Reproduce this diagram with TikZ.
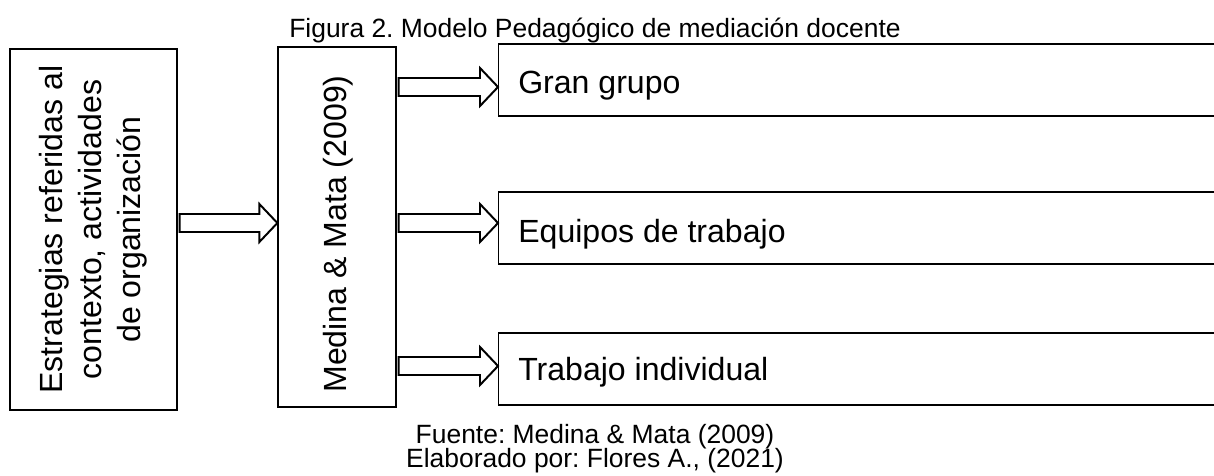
\documentclass[tikz,border=0pt]{standalone}
\usepackage{fontspec}
\setmainfont{Liberation Sans}
\usetikzlibrary{calc}
\frenchspacing

\newlength{\px}
\setlength{\px}{0.025cm}

\tikzset{
  caja/.style={draw, rectangle, line width=0.9pt, inner sep=0pt},
  flecha/.style={draw, line width=1.4pt, line join=miter, fill=white},
  grande/.style={font=\fontsize{22.8}{27.6}\selectfont, inner sep=0pt},
  chica/.style={font=\fontsize{18.8}{22}\selectfont, inner sep=0pt},
}

% flecha hueca: nodo origen, nodo destino, altura
\newcommand{\bloque}[3]{%
  \draw[flecha] ($(#1.east |- 0,#3)+(2,-9)$) -- ($(#2.west |- 0,#3)+(-18,-9)$) -- ++(0,-10)
    -- (#2.west |- 0,#3) -- ($(#2.west |- 0,#3)+(-18,19)$) -- ++(0,-10)
    -- ($(#1.east |- 0,#3)+(2,9)$) -- cycle;}

\begin{document}
\begin{tikzpicture}[x=0.025cm, y=-0.025cm]
	\useasboundingbox (0,0) rectangle (1214,475);
	\clip (0,0) rectangle (1214,475);

	\node[chica, anchor=base west] (titulo) at (289,37) {Figura 2. Modelo Pedagógico de mediación docente};

	\node[caja, minimum width=167\px, minimum height=361\px] (estrategias) at (93.5,229.5) {};
	\node[grande, rotate=90, align=center] (estrategiastxt) at (estrategias) {Estrategias referidas al\\contexto, actividades\\de organización};

	\node[caja, minimum width=118\px, minimum height=360\px] (medina) at (337,227) {};
	\node[grande, rotate=90] (medinatxt) at (338,234) {Medina \& Mata (2009)};

	\foreach \n/\yc/\b/\t in {gran/80/93/Gran grupo, equipos/228/242/Equipos de trabajo, individual/369/380/Trabajo individual}{
		\node[caja, minimum width=760\px, minimum height=72\px, anchor=west] (\n) at (498,\yc) {};
		\node[grande, anchor=base west] (\n txt) at (518,\b) {\t};
	}

	\bloque{estrategias}{medina}{223}
	\bloque{medina}{gran}{87}
	\bloque{medina}{equipos}{223}
	\bloque{medina}{individual}{366}

	\node[chica, anchor=base] (fuente) at (595,443) {Fuente: Medina \& Mata (2009)};
	\node[chica, anchor=base] (elaborado) at (595,467) {Elaborado por: Flores A., (2021)};
\end{tikzpicture}
\end{document}
